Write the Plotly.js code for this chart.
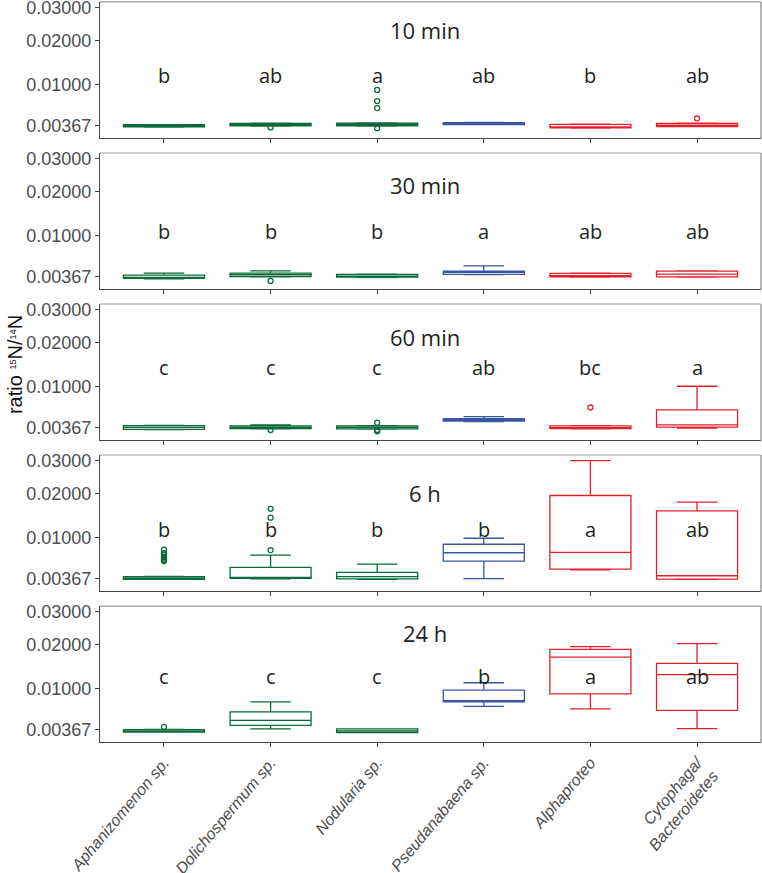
<!DOCTYPE html>
<html>
<head>
<meta charset="utf-8">
<script src="https://cdn.plot.ly/plotly-3.0.1.min.js"></script>
<style>html,body{margin:0;padding:0;background:#fff;}#chart{width:762px;height:873px;}</style>
</head>
<body>
<div id="chart"></div>
<script>
// ---------------- DATA (ratio 15N/14N) ----------------
const categories = ["Aphanizomenon sp.", "Dolichospermum sp.", "Nodularia sp.", "Pseudanabaena sp.", "Alphaproteo", "Cytophaga/<br>Bacteroidetes"];
const timepoints = ["10 min", "30 min", "60 min", "6 h", "24 h"];
const yTickValues = [0.00367, 0.01, 0.02, 0.03];
const yTickLabels = ["0.00367", "0.01000", "0.02000", "0.03000"];

const q1 = [
  [0.00354, 0.00365, 0.00365, 0.00380, 0.00342, 0.00357],
  [0.00347, 0.00369, 0.00361, 0.00393, 0.00365, 0.00365],
  [0.00348, 0.00355, 0.00352, 0.00445, 0.00355, 0.00372],
  [0.00360, 0.00369, 0.00365, 0.00598, 0.00485, 0.00361],
  [0.00340, 0.00419, 0.00335, 0.00757, 0.00898, 0.00625]];
const median = [
  [0.00362, 0.00375, 0.00380, 0.00390, 0.00350, 0.00370],
  [0.00360, 0.00390, 0.00370, 0.00420, 0.00380, 0.00397],
  [0.00370, 0.00370, 0.00370, 0.00460, 0.00360, 0.00400],
  [0.00368, 0.00380, 0.00390, 0.00727, 0.00734, 0.00401],
  [0.00350, 0.00482, 0.00352, 0.00780, 0.01683, 0.01276]];
const q3 = [
  [0.00378, 0.00392, 0.00395, 0.00401, 0.00381, 0.00392],
  [0.00385, 0.00409, 0.00393, 0.00434, 0.00406, 0.00434],
  [0.00391, 0.00387, 0.00387, 0.00479, 0.00387, 0.00600],
  [0.00390, 0.00508, 0.00442, 0.00872, 0.01956, 0.01568],
  [0.00367, 0.00600, 0.00375, 0.00965, 0.01882, 0.01532]];
const lowerWhisker = [
  [0.00350, 0.00362, 0.00362, 0.00378, 0.00340, 0.00355],
  [0.00342, 0.00365, 0.00358, 0.00390, 0.00362, 0.00362],
  [0.00345, 0.00352, 0.00350, 0.00440, 0.00352, 0.00360],
  [0.00358, 0.00365, 0.00360, 0.00368, 0.00476, 0.00358],
  [0.00338, 0.00375, 0.00333, 0.00686, 0.00645, 0.00379]];
const upperWhisker = [
  [0.00380, 0.00395, 0.00398, 0.00404, 0.00384, 0.00395],
  [0.00409, 0.00437, 0.00396, 0.00503, 0.00410, 0.00437],
  [0.00394, 0.00400, 0.00390, 0.00505, 0.00390, 0.01000],
  [0.00392, 0.00690, 0.00555, 0.00982, 0.03000, 0.01784],
  [0.00369, 0.00757, 0.00377, 0.01109, 0.01955, 0.02035]];
const outliers = [
  [[], [0.00347], [0.00895, 0.00706, 0.00598, 0.00338], [], [], [0.00455]],
  [[], [0.00320], [], [], [], []],
  [[], [0.00340], [0.00427, 0.00340, 0.00326], [], [0.00636], []],
  [[0.00780, 0.00722, 0.00690, 0.00658, 0.00636, 0.00614, 0.00598], [0.00771, 0.01410, 0.01617], [], [], [], []],
  [[0.00400], [], [], [], [], []]];
const letters = [
  ["b", "ab", "a", "ab", "b", "ab"],
  ["b", "b", "b", "a", "ab", "ab"],
  ["c", "c", "c", "ab", "bc", "a"],
  ["b", "b", "b", "b", "a", "ab"],
  ["c", "c", "c", "b", "a", "ab"]];

// ---------------- STYLE / LAYOUT ----------------
const catColor = ["#0a6a3a", "#0a6a3a", "#0a6a3a", "#3a55a3", "#e2202b", "#e2202b"];
const letterLevel = [0.01167, 0.01065, 0.01386, 0.01146, 0.0124];   // y of letter labels (value units)
const titleLevel = [0.794, 0.765, 0.757, 0.72, 0.80];               // y of panel titles (fraction of panel)
const domains = [[0.8151, 0.9987], [0.6113, 0.7949], [0.4076, 0.5911], [0.2038, 0.3873], [0.0, 0.1835]];
const tr = v => Math.sqrt(v);   // square-root y scale

const traces = [];
const layout = {
  width: 762, height: 873,
  margin: {l: 100, r: 1, t: 1, b: 131},
  paper_bgcolor: "#fff", plot_bgcolor: "#fff",
  showlegend: false, boxmode: "overlay",
  font: {family: "Liberation Sans, Arial, sans-serif", color: "#4d4d4d"},
  annotations: [], shapes: []
};

timepoints.forEach((tp, p) => {
  const k = p === 0 ? "" : String(p + 1);
  const xa = "x" + k, ya = "y" + k;
  categories.forEach((cat, i) => {
    traces.push({
      type: "box", x: [cat],
      q1: [tr(q1[p][i])], median: [tr(median[p][i])], q3: [tr(q3[p][i])],
      lowerfence: [tr(lowerWhisker[p][i])], upperfence: [tr(upperWhisker[p][i])],
      width: 0.76, boxpoints: false,
      line: {color: catColor[i], width: 1.3}, fillcolor: "rgba(255,255,255,0)",
      xaxis: xa, yaxis: ya, hoverinfo: "skip"
    });
    if (outliers[p][i].length) {
      traces.push({
        type: "scatter", mode: "markers",
        x: outliers[p][i].map(() => cat), y: outliers[p][i].map(tr),
        marker: {symbol: "circle-open", size: 5, color: catColor[i], line: {width: 1.3, color: catColor[i]}},
        xaxis: xa, yaxis: ya, hoverinfo: "skip"
      });
    }
    layout.annotations.push({
      xref: xa, yref: ya, x: cat, y: tr(letterLevel[p]), text: letters[p][i],
      showarrow: false, xanchor: "center", yanchor: "middle",
      font: {family: "Open Sans, Noto Sans, sans-serif", size: 20, color: "#231f20"}
    });
  });
  layout.annotations.push({
    xref: xa + " domain", yref: ya + " domain", x: 0.4917, y: titleLevel[p], text: tp,
    showarrow: false, xanchor: "center", yanchor: "middle",
    font: {family: "Open Sans, Noto Sans, sans-serif", size: 22, color: "#231f20"}
  });
  layout["xaxis" + k] = {
    domain: [0, 1], anchor: ya, type: "category", categoryorder: "array", categoryarray: categories,
    range: [-0.6, 5.6], showgrid: false, zeroline: false,
    showline: true, linecolor: "#444", linewidth: 1,
    ticks: "outside", ticklen: 4, tickcolor: "#444", tickwidth: 1,
    showticklabels: p === 4, tickangle: -50, ticklabeloverflow: "allow",
    tickfont: {family: "Liberation Sans, Arial, sans-serif", size: 16, color: "#4d4d4d", style: "italic"}
  };
  layout["yaxis" + k] = {
    domain: domains[p], anchor: xa, range: [0.0488, 0.17847],
    tickmode: "array", tickvals: yTickValues.map(tr), ticktext: yTickLabels,
    showgrid: false, zeroline: false, ticklabeloverflow: "allow",
    showline: true, linecolor: "#444", linewidth: 1,
    ticks: "outside", ticklen: 4, tickcolor: "#444", tickwidth: 1,
    tickfont: {family: "Liberation Sans, Arial, sans-serif", size: 18, color: "#4d4d4d"}
  };
  layout.shapes.push({type: "line", xref: xa + " domain", yref: ya + " domain", x0: 0, x1: 1, y0: 1, y1: 1, line: {color: "#999", width: 1.2}});
  layout.shapes.push({type: "line", xref: xa + " domain", yref: ya + " domain", x0: 1, x1: 1, y0: 0, y1: 1, line: {color: "#888", width: 1.2}});
});

layout.annotations.push({
  xref: "paper", yref: "paper", x: -0.1286, y: 0.51, textangle: -90,
  text: "ratio <span style=\"font-size:13px\"><sup>15</sup></span>N/<span style=\"font-size:13px\"><sup>14</sup></span>N",
  showarrow: false, xanchor: "center", yanchor: "middle",
  font: {family: "Liberation Sans, Arial, sans-serif", size: 20, color: "#111"}
});

Plotly.newPlot("chart", traces, layout, {staticPlot: true, displayModeBar: false});
</script>
</body>
</html>
